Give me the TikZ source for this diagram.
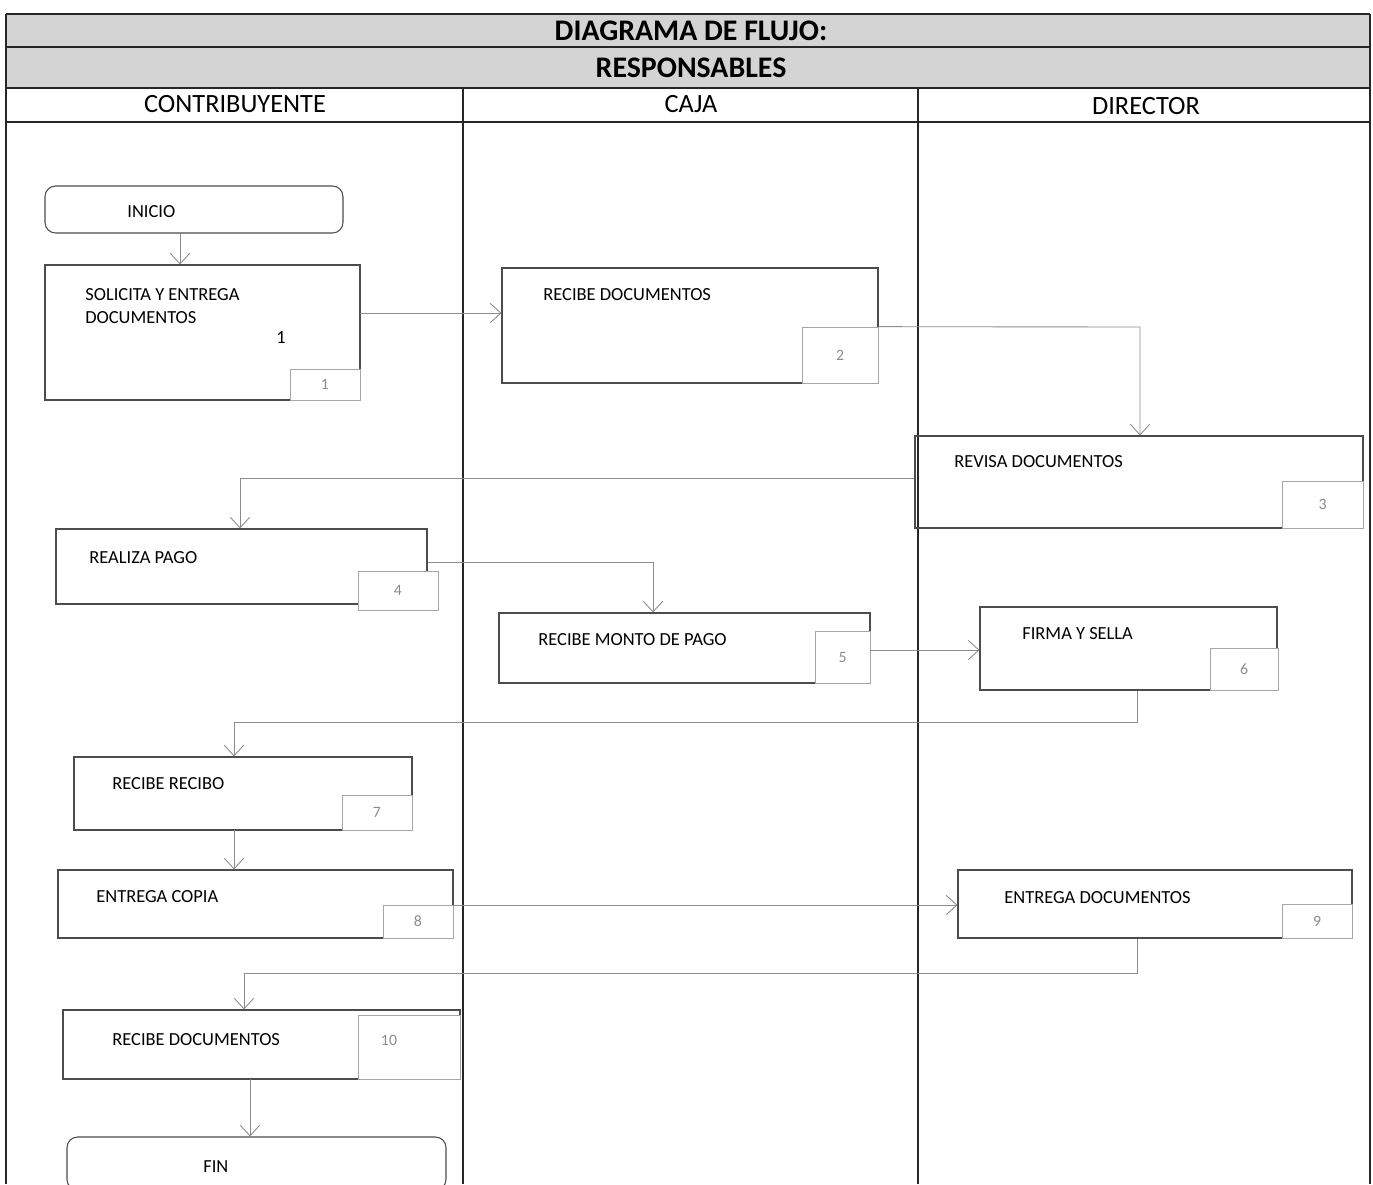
\documentclass[tikz,border=0pt]{standalone}
\usepackage{fontspec}
\setmainfont{Carlito}
\usetikzlibrary{arrows.meta,fit,calc}
\begin{document}
\begin{tikzpicture}[x=0.02cm,y=-0.02cm,
 box/.style={draw=black!70, line width=0.6pt, inner sep=0pt},
 rbox/.style={box, rounded corners=6pt},
 numbox/.style={draw=black!35, line width=0.4pt, fill=white, inner sep=0pt},
 lbl/.style={anchor=west, font=\fontsize{10.5}{12.5}\selectfont, inner sep=0pt, align=left},
 num/.style={font=\fontsize{9}{10}\selectfont, text=black!45, inner sep=0pt},
 conn/.style={draw=black!45, line width=0.5pt},
 arr/.style={conn, -{Straight Barb[length=6pt,width=11pt]}},
 hdr/.style={font=\bfseries\fontsize{17}{20}\selectfont, inner sep=0pt},
 col/.style={font=\fontsize{15}{18}\selectfont, inner sep=0pt},
 tline/.style={draw=black!85, line width=1pt}]
\useasboundingbox (0,0) rectangle (1373,1184);
% ---- table header ----
\fill[black!17] (6,14) rectangle (1370,88);
\draw[tline] (6,14) -- (1370,14);
\draw[tline] (6,47) -- (1370,47);
\draw[tline] (6,88) -- (1370,88);
\draw[tline] (6,122) -- (1370,122);
\draw[tline] (6,14) -- (6,1184);
\draw[tline] (1370,14) -- (1370,1184);
\draw[tline] (463,88) -- (463,1184);
\draw[tline] (918,88) -- (918,1184);
\node[hdr] (t1) at (691,31) {DIAGRAMA DE FLUJO:};
\node[hdr] (t2) at (691,68) {RESPONSABLES};
\node[col] (c1) at (235,104) {CONTRIBUYENTE};
\node[col] (c2) at (691,104) {CAJA};
\node[col] (c3) at (1146,106) {DIRECTOR};
% ---- boxes ----
\node[rbox, fit={(45,186)(343,233)}] (b0) {};
\node[lbl] (l0) at (127,212) {INICIO};

\node[box, fit={(45,265)(360,400)}] (b1) {};
\node[numbox, fit={(290,369)(360,400)}] (n1) {};
\node[num] (m1) at (n1.center) {1};
\node[lbl] (l1) at (85,306) {SOLICITA Y ENTREGA\\[1pt]DOCUMENTOS};
\node[inner sep=0pt, font=\fontsize{10.5}{12.5}\selectfont] (k1) at (281,338) {1};

\node[box, fit={(502,268)(878,383)}] (b2) {};
\node[numbox, fit={(802,327)(878,383)}] (n2) {};
\node[num] (m2) at (n2.center) {2};
\node[lbl] (l2) at (543,295) {RECIBE DOCUMENTOS};

\node[box, fit={(915,436)(1363,528)}] (b3) {};
\node[numbox, fit={(1282,481)(1363,528)}] (n3) {};
\node[num] (m3) at (n3.center) {3};
\node[lbl] (l3) at (954,462) {REVISA DOCUMENTOS};

\node[box, fit={(56,529)(427,604)}] (b4) {};
\node[numbox, fit={(358,571)(438,610)}] (n4) {};
\node[num] (m4) at (n4.center) {4};
\node[lbl] (l4) at (89,558) {REALIZA PAGO};

\node[box, fit={(499,613)(870,683)}] (b5) {};
\node[numbox, fit={(815,631)(870,683)}] (n5) {};
\node[num] (m5) at (n5.center) {5};
\node[lbl] (l5) at (538,640) {RECIBE MONTO DE PAGO};

\node[box, fit={(980,607)(1277,690)}] (b6) {};
\node[numbox, fit={(1210,648)(1278,690)}] (n6) {};
\node[num] (m6) at (n6.center) {6};
\node[lbl] (l6) at (1022,634) {FIRMA Y SELLA};

\node[box, fit={(74,757)(412,830)}] (b7) {};
\node[numbox, fit={(342,795)(412,830)}] (n7) {};
\node[num] (m7) at (n7.center) {7};
\node[lbl] (l7) at (112,784) {RECIBE RECIBO};

\node[box, fit={(58,870)(453,938)}] (b8) {};
\node[numbox, fit={(383,905)(453,938)}] (n8) {};
\node[num] (m8) at (n8.center) {8};
\node[lbl] (l8) at (96,897) {ENTREGA COPIA};

\node[box, fit={(958,870)(1352,938)}] (b9) {};
\node[numbox, fit={(1282,904)(1352,938)}] (n9) {};
\node[num] (m9) at (n9.center) {9};
\node[lbl] (l9) at (1004,898) {ENTREGA DOCUMENTOS};

\node[box, fit={(63,1010)(460,1079)}] (b10) {};
\node[numbox, fit={(358,1015)(460,1079)}] (n10) {};
\node[num] (m10) at (389,1040) {10};
\node[lbl] (l10) at (112,1040) {RECIBE DOCUMENTOS};

\node[rbox, fit={(67,1137)(446,1190)}] (b11) {};
\node[lbl] (l11) at (203,1167) {FIN};
% ---- connectors ----
\coordinate (a0) at (180,233);
\draw[arr] (a0) -- (a0 |- b1.north);
\coordinate (a1) at (360,313);
\draw[arr] (a1) -- (a1 -| b2.west);
\coordinate (a2) at (1140,327);
\draw[arr] (n2.north east) -- (a2) -- (a2 |- b3.north);
\coordinate (a3) at (240,478);
\draw[arr] (a3 -| b3.west) -- (a3) -- (a3 |- b4.north);
\coordinate (a4) at (653,562);
\draw[arr] (a4 -| b4.east) -- (a4) -- (a4 |- b5.north);
\coordinate (a5) at (870,650);
\draw[arr] (a5) -- (a5 -| b6.west);
\coordinate (a6) at (1137,722);
\coordinate (a6b) at (234,722);
\draw[arr] (a6 |- b6.south) -- (a6) -- (a6b) -- (a6b |- b7.north);
\coordinate (a7) at (234,830);
\draw[arr] (a7) -- (a7 |- b8.north);
\coordinate (a8) at (453,905);
\draw[arr] (a8) -- (a8 -| b9.west);
\coordinate (a9) at (1137,973);
\coordinate (a9b) at (244,973);
\draw[arr] (a9 |- b9.south) -- (a9) -- (a9b) -- (a9b |- b10.north);
\coordinate (a10) at (250,1079);
\draw[arr] (a10) -- (a10 |- b11.north);
\end{tikzpicture}
\end{document}
